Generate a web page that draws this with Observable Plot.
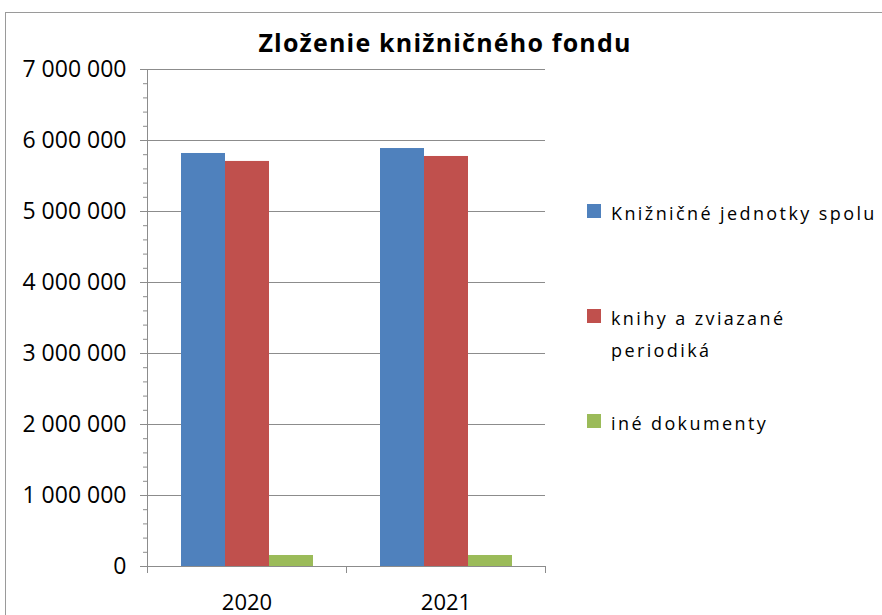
<!DOCTYPE html>
<html>
<head>
<meta charset="utf-8">
<script src="https://cdn.jsdelivr.net/npm/d3@7"></script>
<script src="https://cdn.jsdelivr.net/npm/@observablehq/plot@0.6"></script>
<style>
  html, body { margin: 0; padding: 0; background: #fff; }
  #wrap { position: relative; width: 882px; height: 615px; overflow: hidden; font-family: "Open Sans", sans-serif; }
  #frame { position: absolute; left: 5px; top: 12px; width: 900px; height: 700px; border: 1px solid #9a9a9a; box-sizing: border-box; }
  #chart { position: absolute; left: 0; top: 0; }
  #title { position: absolute; top: 30px; left: 445px; transform: translateX(-50%); font-size: 25px; font-weight: 700; line-height: 25px; letter-spacing: 1.2px; white-space: nowrap; color: #000; }
  .leg { position: absolute; left: 587px; font-size: 18px; line-height: 32px; letter-spacing: 2.4px; color: #000; }
  .leg .sw { position: absolute; left: 0; top: 7px; width: 14px; height: 14px; }
  .leg .lb { position: absolute; left: 24px; top: 0; }
</style>
</head>
<body>
<div id="wrap">
  <div id="frame"></div>
  <div id="chart"></div>
  <div id="title"></div>
  <div id="legend"></div>
</div>
<script>
// ---- data ----
const title = "Zloženie knižničného fondu";
const years = ["2020", "2021"];
const series = ["Knižničné jednotky spolu", "knihy a zviazané periodiká", "iné dokumenty"];
const totalUnits = [5817000, 5887000];
const booksPeriodicals = [5705000, 5775000];
const otherDocs = [155000, 155000];
const colors = ["#4F81BD", "#C0504D", "#9BBB59"];
const yTicks = [0, 1000000, 2000000, 3000000, 4000000, 5000000, 6000000, 7000000];
const yMinorStep = 200000;

// ---- build table ----
const seriesValues = [totalUnits, booksPeriodicals, otherDocs];
const data = years.flatMap((yr, i) => series.map((s, j) => ({year: yr, series: s, value: seriesValues[j][i]})));
const yMax = yTicks[yTicks.length - 1];
const minorTicks = d3.range(0, yMax + 1, yMinorStep);
const fmt = d => d3.format(",")(d).replace(/,/g, " ");

const W = 882, H = 615, mL = 147, mR = 337, mT = 69, mB = 49;
const facetW = (W - mL - mR) / years.length;
const axisGray = "#8c8c8c";

const plot = Plot.plot({
  width: W, height: H,
  marginLeft: mL, marginRight: mR, marginTop: mT, marginBottom: mB,
  style: {fontFamily: "'Open Sans', sans-serif", fontSize: "22px", color: "#000", background: "transparent", overflow: "visible"},
  fx: {domain: years, paddingInner: 0, paddingOuter: 0, label: null, axis: null},
  x: {domain: series, paddingInner: 0, paddingOuter: 0.725, axis: null},
  y: {domain: [0, yMax], axis: null},
  color: {domain: series, range: colors},
  marks: [
    Plot.ruleY(yTicks.filter(d => d > 0), {stroke: axisGray, strokeWidth: 1}),
    Plot.barY(data, {fx: "year", x: "series", y: "value", fill: "series"}),
    Plot.ruleY([0], {stroke: axisGray}),
    Plot.frame({anchor: "left", facetAnchor: "left", stroke: axisGray}),
    Plot.axisY({ticks: minorTicks, tickSize: 4, tickFormat: () => "", stroke: axisGray, label: null}),
    Plot.axisY({ticks: yTicks, tickSize: 7, tickPadding: 14, tickFormat: fmt, stroke: axisGray, fill: "#000", fontSize: 23, label: null}),
    Plot.axisFx({anchor: "bottom", tickSize: 0, tickPadding: 28, fontSize: 22, fill: "#000", label: null}),
    Plot.axisFx({anchor: "bottom", tickSize: 7, tickFormat: () => "", stroke: axisGray, dx: -facetW / 2, label: null}),
    Plot.axisFx({anchor: "bottom", tickSize: 7, tickFormat: () => "", stroke: axisGray, dx: facetW / 2, label: null})
  ]
});
document.getElementById("chart").appendChild(plot);
document.getElementById("title").textContent = title;

// ---- legend ----
const legend = document.getElementById("legend");
const legTops = [197, 302, 407];
series.forEach((s, i) => {
  const d = document.createElement("div");
  d.className = "leg";
  d.style.top = legTops[i] + "px";
  const sw = document.createElement("div");
  sw.className = "sw";
  sw.style.background = colors[i];
  const lb = document.createElement("div");
  lb.className = "lb";
  lb.textContent = s;
  lb.style.width = i === 0 ? "300px" : "210px";
  lb.style.whiteSpace = i === 0 ? "nowrap" : "normal";
  d.appendChild(sw);
  d.appendChild(lb);
  legend.appendChild(d);
});
</script>
</body>
</html>
